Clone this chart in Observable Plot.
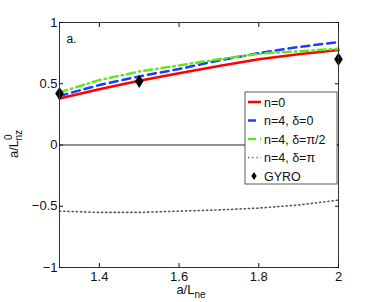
<!DOCTYPE html>
<html><head><meta charset="utf-8">
<script src="https://cdn.jsdelivr.net/npm/d3@7"></script>
<script src="https://cdn.jsdelivr.net/npm/@observablehq/plot@0.6"></script>
<style>body{margin:0;background:#fff;font-family:"Liberation Sans",Arial,sans-serif}</style>
</head><body><div id="chart"></div>
<script>
const xs = [1.3, 1.4, 1.5, 1.6, 1.7, 1.8, 1.9, 2.0];
const n0 = [0.38, 0.455, 0.525, 0.585, 0.645, 0.70, 0.74, 0.775];
const n4d0 = [0.40, 0.49, 0.56, 0.62, 0.69, 0.75, 0.80, 0.84];
const n4dpi2 = [0.43, 0.53, 0.60, 0.65, 0.70, 0.745, 0.765, 0.785];
const n4dpi = [-0.54, -0.55, -0.55, -0.54, -0.53, -0.515, -0.49, -0.45];
const gyroX = [1.3, 1.5, 2.0];
const gyroY = [0.42, 0.52, 0.70];
const xTicks = [1.4, 1.6, 1.8, 2];
const yTicks = [-1, -0.5, 0, 0.5, 1];
const labels = ["n=0", "n=4, δ=0", "n=4, δ=π/2", "n=4, δ=π", "GYRO"];

const series = [
  {name: labels[0], ys: n0, stroke: "#ff0000", dash: null, width: 2.5},
  {name: labels[1], ys: n4d0, stroke: "#1f3cff", dash: "8,5", width: 2.5},
  {name: labels[2], ys: n4dpi2, stroke: "#5fe61e", dash: "8,4,1.5,4", width: 2.5},
  {name: labels[3], ys: n4dpi, stroke: "#555", dash: "1.2,3", width: 1.6}
];
const tallDiamond = {
  draw(ctx, size) {
    const h = Math.sqrt(size) * 0.75, w = h * 0.65;
    ctx.moveTo(0, -h); ctx.lineTo(w, 0); ctx.lineTo(0, h); ctx.lineTo(-w, 0); ctx.closePath();
  }
};
const fmt = d => (d < 0 ? "\u2212" : "") + String(Math.abs(d));
const W = 374, H = 302;
const plot = Plot.plot({
  width: W, height: H,
  marginLeft: 59, marginRight: 36, marginTop: 22, marginBottom: 35,
  style: {fontFamily: "Liberation Sans, Arial, sans-serif", fontSize: "13px", color: "#111"},
  x: {domain: [1.3, 2], label: null},
  y: {domain: [-1, 1], label: null},
  marks: [
    Plot.ruleY([0], {stroke: "#222", strokeWidth: 1}),
    ...series.map(s => Plot.line(xs.map((x, i) => ({x, y: s.ys[i]})), {x: "x", y: "y", stroke: s.stroke, strokeWidth: s.width, strokeDasharray: s.dash})),
    Plot.dot(gyroX.map((x, i) => ({x, y: gyroY[i]})), {x: "x", y: "y", symbol: tallDiamond, r: 5, fill: "#000", stroke: "none"}),
    Plot.frame({stroke: "#333"}),
    Plot.axisX({ticks: xTicks, tickSize: -4, tickPadding: 8, tickFormat: d => String(d), fontSize: 13, label: null}),
    Plot.axisX({ticks: xTicks, anchor: "top", tickSize: -4, tickFormat: () => "", label: null}),
    Plot.axisY({ticks: yTicks, tickSize: -4, tickPadding: 6, tickFormat: fmt, fontSize: 13, label: null}),
    Plot.axisY({ticks: yTicks, anchor: "right", tickSize: -4, tickFormat: () => "", label: null}),
    Plot.text(["a."], {frameAnchor: "top-left", dx: 7, dy: 12, fontSize: 12})
  ]
});
document.getElementById("chart").appendChild(plot);
const svg = d3.select(plot);
// axis labels
const xl = svg.append("text").attr("x", 191).attr("y", 294).attr("text-anchor", "middle").attr("font-size", 13).attr("fill", "#111");
xl.append("tspan").text("a/L");
xl.append("tspan").attr("font-size", 10).attr("dy", 4).text("ne");
const yl = svg.append("text").attr("transform", "translate(18,144) rotate(-90)").attr("text-anchor", "middle").attr("font-size", 13).attr("fill", "#111");
yl.append("tspan").text("a/L");
yl.append("tspan").attr("font-size", 10).attr("dy", -6).text("0");
yl.append("tspan").attr("font-size", 10).attr("dx", -6).attr("dy", 10).text("nz");
// legend
const lg = svg.append("g").attr("transform", "translate(245,92)");
lg.append("rect").attr("width", 92).attr("height", 92).attr("fill", "#fff").attr("stroke", "#333").attr("stroke-width", 0.8);
labels.forEach((lab, i) => {
  const y = 10 + i * 18.5;
  if (i < 4) {
    const s = series[i];
    lg.append("line").attr("x1", 3).attr("x2", 16).attr("y1", y).attr("y2", y).attr("stroke", s.stroke).attr("stroke-width", s.width).attr("stroke-dasharray", s.dash);
  } else {
    lg.append("path").attr("d", d3.symbol(tallDiamond, 30)()).attr("transform", `translate(9,${y})`).attr("fill", "#000");
  }
  lg.append("text").attr("x", 19).attr("y", y + 4.5).attr("text-anchor", "start").attr("font-size", 12.5).attr("fill", "#111").text(lab);
});
</script></body></html>
